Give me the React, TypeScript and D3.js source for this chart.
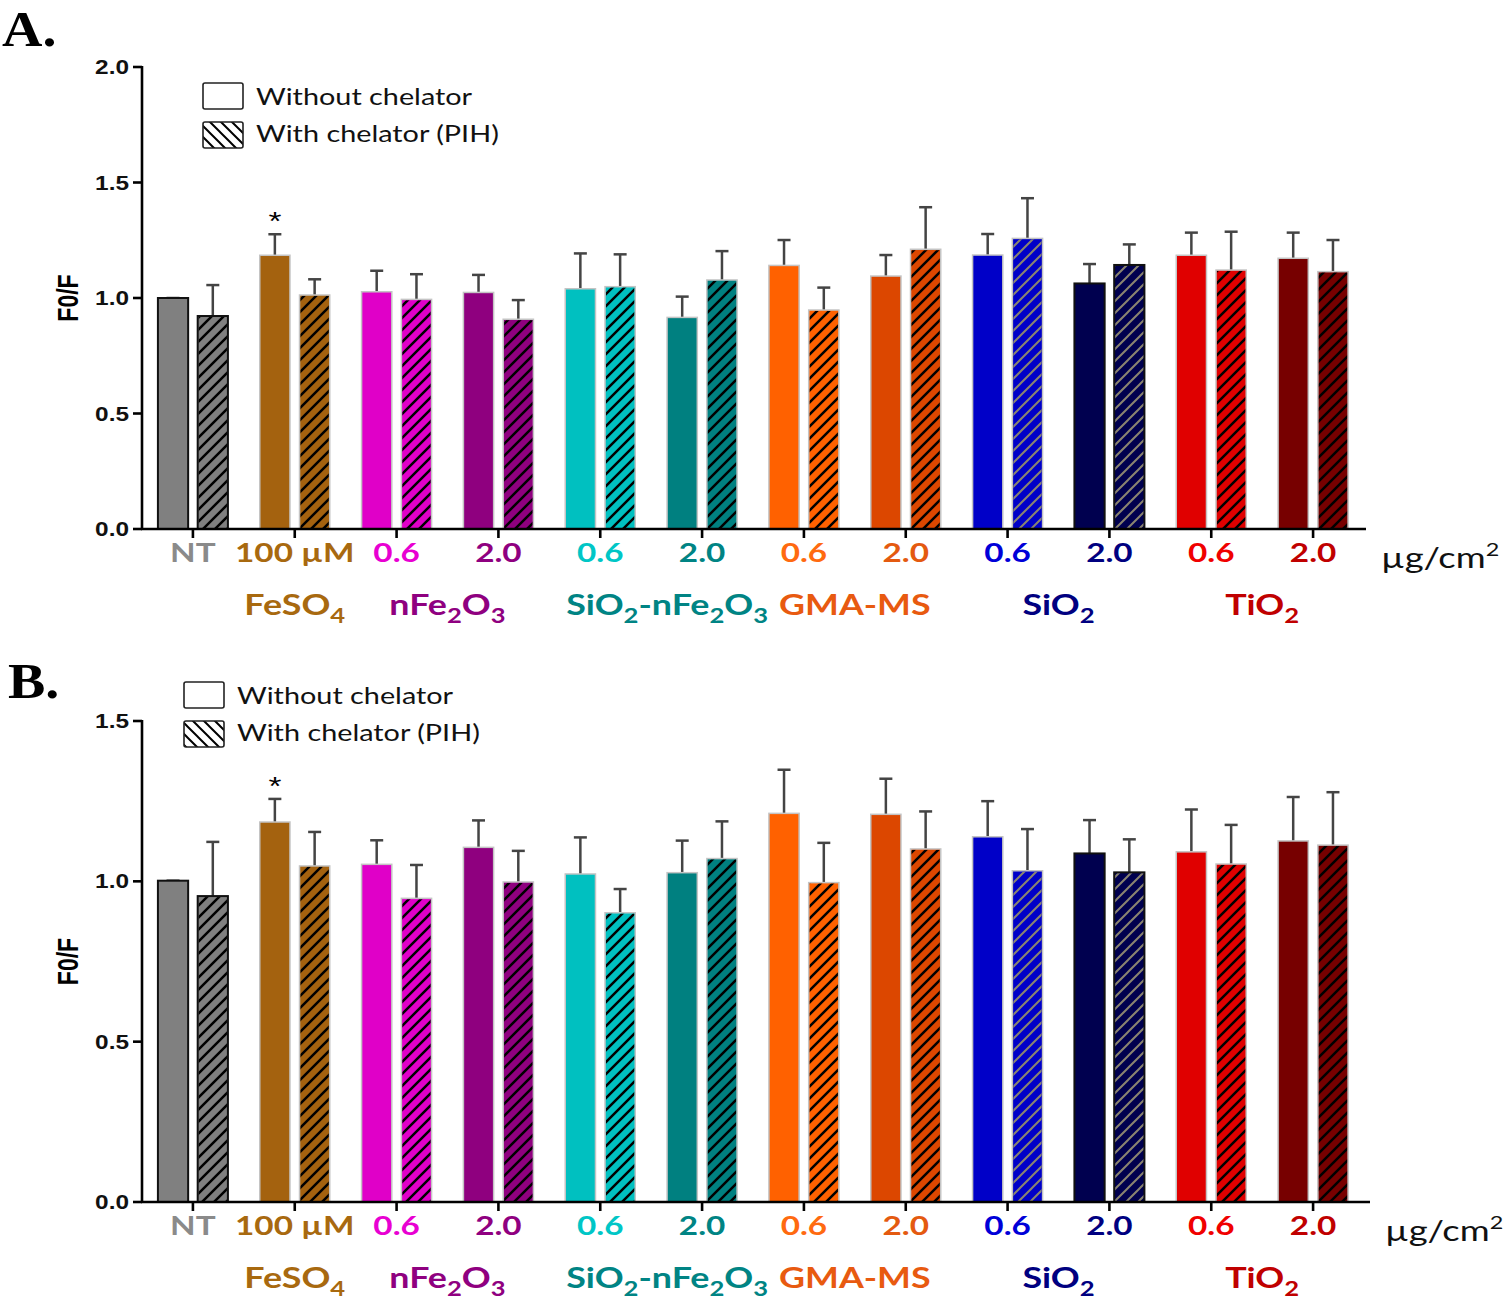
import * as d3 from "d3"

// groups along the x axis (one pair of bars each)
const groups = ["NT", "FeSO4", "nFe2O3 0.6", "nFe2O3 2.0", "SiO2-nFe2O3 0.6", "SiO2-nFe2O3 2.0",
  "GMA-MS 0.6", "GMA-MS 2.0", "SiO2 0.6", "SiO2 2.0", "TiO2 0.6", "TiO2 2.0"]
const doseLabels = ["NT", "100 µM", "0.6", "2.0", "0.6", "2.0", "0.6", "2.0", "0.6", "2.0", "0.6", "2.0"]
const conditions = ["without", "with"]

const barColors = ["#808080", "#a4620f", "#e000c8", "#8f007f", "#00c0c0", "#008080",
  "#ff6100", "#dc4700", "#0000c8", "#00004f", "#e00000", "#770000"]
const doseColors = ["#8a8a8a", "#a8690f", "#e800d2", "#8f0080", "#00c6c6", "#008484",
  "#ff6a10", "#e45a10", "#0000d8", "#000080", "#f00000", "#c00000"]

// second label row, with subscripts
const materials = [
  { parts: [["FeSO", ""], ["4", "sub"]], from: 1, to: 1, color: "#a8690f" },
  { parts: [["nFe", ""], ["2", "sub"], ["O", ""], ["3", "sub"]], from: 2, to: 3, color: "#8f0080" },
  { parts: [["SiO", ""], ["2", "sub"], ["-nFe", ""], ["2", "sub"], ["O", ""], ["3", "sub"]], from: 4, to: 5, color: "#008484" },
  { parts: [["GMA-MS", ""]], from: 6, to: 7, color: "#e85a10" },
  { parts: [["SiO", ""], ["2", "sub"]], from: 8, to: 9, color: "#000080" },
  { parts: [["TiO", ""], ["2", "sub"]], from: 10, to: 11, color: "#c00000" },
]

// panel A
const withoutA = [1.0, 1.185, 1.027, 1.024, 1.04, 0.916, 1.141, 1.095, 1.186, 1.063, 1.185, 1.172]
const withoutErrA = [0.0, 0.091, 0.091, 0.076, 0.153, 0.09, 0.11, 0.091, 0.091, 0.084, 0.098, 0.111]
const withA = [0.922, 1.013, 0.994, 0.908, 1.049, 1.078, 0.948, 1.211, 1.258, 1.143, 1.121, 1.114]
const withErrA = [0.134, 0.068, 0.109, 0.083, 0.14, 0.125, 0.097, 0.182, 0.174, 0.089, 0.166, 0.137]
const ticksA = [0, 0.5, 1.0, 1.5, 2.0]

// panel B
const withoutB = [1.002, 1.185, 1.053, 1.106, 1.023, 1.027, 1.212, 1.209, 1.139, 1.087, 1.092, 1.126]
const withoutErrB = [0.0, 0.072, 0.075, 0.084, 0.114, 0.1, 0.136, 0.111, 0.111, 0.104, 0.132, 0.137]
const withB = [0.954, 1.048, 0.947, 0.998, 0.902, 1.071, 0.996, 1.101, 1.033, 1.028, 1.054, 1.113]
const withErrB = [0.169, 0.106, 0.104, 0.097, 0.074, 0.116, 0.124, 0.117, 0.13, 0.103, 0.122, 0.165]
const ticksB = [0, 0.5, 1.0, 1.5]

const SX = 1.28 // the whole figure is stretched horizontally

const blackEdge = (i: number) => i === 0 || i === 9
const greyHatch = (i: number) => i === 8 || i === 9

interface PanelProps {
  letter: string
  without: number[]
  withC: number[]
  withoutErr: number[]
  withErr: number[]
  ticks: number[]
  yMax: number
  top: number
  bottom: number
  axisEnd: number
  legendX: number
  legendY: number
  letterX: number
  letterY: number
}

const Panel = (p: PanelProps) => {
  const left = 142
  const x = d3.scaleBand().domain(groups).range([left, 1364]).padding(0)
  const x1 = d3.scaleBand().domain(conditions).range([-35, 35]).paddingInner(0.24)
  const y = d3.scaleLinear().domain([0, p.yMax]).range([p.bottom, p.top])
  const cx = (i: number) => (x(groups[i]) as number) + x.bandwidth() / 2
  const id = p.letter

  const bars: any[] = []
  groups.forEach((g, i) => {
    conditions.forEach((c) => {
      const v = c === "without" ? p.without[i] : p.withC[i]
      const e = c === "without" ? p.withoutErr[i] : p.withErr[i]
      const bx = cx(i) + (x1(c) as number)
      const bw = x1.bandwidth()
      const stroke = blackEdge(i) ? "#111" : "#c4c4c4"
      bars.push(
        <g key={g + c}>
          <line x1={bx + bw / 2} x2={bx + bw / 2} y1={y(v)} y2={y(v + e)} stroke="#444" strokeWidth={2.5} />
          <line x1={bx + bw / 2 - 6.5} x2={bx + bw / 2 + 6.5} y1={y(v + e)} y2={y(v + e)} stroke="#444" strokeWidth={2.5} />
          <rect x={bx} y={y(v)} width={bw} height={p.bottom - y(v)} fill={barColors[i]}
            stroke={stroke} strokeWidth={blackEdge(i) ? 2 : 1.5} />
          {c === "with" && (
            <rect x={bx + 1} y={y(v) + 1} width={bw - 2} height={p.bottom - y(v) - 1}
              fill={`url(#hatch-${id}-${greyHatch(i) ? "g" : "k"})`} />
          )}
        </g>
      )
    })
  })

  const tx = (xx: number, yy: number) => `translate(${xx},${yy}) scale(${SX},1)`

  return (
    <g>
      <defs>
        <pattern id={`hatch-${id}-k`} patternUnits="userSpaceOnUse" width={12} height={12}>
          <path d="M-3,3 l6,-6 M0,12 l12,-12 M9,15 l6,-6" stroke="#000" strokeWidth={2.5} />
        </pattern>
        <pattern id={`hatch-${id}-g`} patternUnits="userSpaceOnUse" width={12} height={12}>
          <path d="M-3,3 l6,-6 M0,12 l12,-12 M9,15 l6,-6" stroke="#8a8470" strokeWidth={2} />
        </pattern>
        <pattern id={`leg-${id}`} patternUnits="userSpaceOnUse" width={11} height={11}>
          <path d="M-2,9 l4,4 M0,0 l11,11 M9,-2 l4,4" stroke="#000" strokeWidth={2} />
        </pattern>
      </defs>

      <text transform={`translate(${p.letterX},${p.letterY}) scale(1.12,1)`} fontFamily="Liberation Serif"
        fontWeight="bold" fontSize={50}>{p.letter}.</text>

      {/* legend */}
      <rect x={p.legendX} y={p.legendY} width={40} height={26} rx={2} fill="#fff" stroke="#222" strokeWidth={1.6} />
      <rect x={p.legendX} y={p.legendY + 39} width={40} height={26} rx={2} fill={`url(#leg-${id})`} stroke="#222" strokeWidth={1.6} />
      <text transform={`translate(${p.legendX + 53},${p.legendY + 22}) scale(1.2,1)`} fontFamily="Lato" fontSize={24} fill="#111">Without chelator</text>
      <text transform={`translate(${p.legendX + 53},${p.legendY + 59}) scale(1.2,1)`} fontFamily="Lato" fontSize={24} fill="#111">With chelator (PIH)</text>

      {bars}

      {/* asterisk over FeSO4 */}
      <text transform={tx(cx(1) + (x1("without") as number) + x1.bandwidth() / 2, y(p.without[1] + p.withoutErr[1]) - 4)}
        textAnchor="middle" fontFamily="Liberation Sans" fontSize={26}>*</text>

      {/* y axis */}
      <line x1={left} x2={left} y1={p.top - 1} y2={p.bottom + 1} stroke="#000" strokeWidth={2.6} />
      {p.ticks.map((t) => (
        <g key={t}>
          <line x1={left - 9} x2={left} y1={y(t)} y2={y(t)} stroke="#000" strokeWidth={2.6} />
          <text transform={`translate(${left - 13},${y(t) + 7}) scale(1.22,1)`} textAnchor="end" fontFamily="Liberation Sans"
            fontWeight="bold" fontSize={20} fill="#111">{d3.format(".1f")(t)}</text>
        </g>
      ))}
      <text transform={`translate(78,${(p.top + p.bottom) / 2}) scale(${SX},1) rotate(-90)`}
        textAnchor="middle" fontFamily="Liberation Sans" fontWeight="bold" fontSize={23}>F0/F</text>

      {/* x axis */}
      <line x1={left - 1} x2={p.axisEnd} y1={p.bottom} y2={p.bottom} stroke="#000" strokeWidth={2.6} />
      {groups.map((g, i) => (
        <g key={g}>
          <line x1={cx(i)} x2={cx(i)} y1={p.bottom} y2={p.bottom + 9} stroke="#000" strokeWidth={2.6} />
          <text transform={tx(cx(i), p.bottom + 33)} textAnchor="middle" fontFamily="Lato" fontWeight="bold"
            fontSize={26} fill={doseColors[i]}>{doseLabels[i]}</text>
        </g>
      ))}
      <text transform={`translate(${p.axisEnd + 15},${p.bottom + 39}) scale(1.3,1)`} fontFamily="Lato" fontSize={28} fill="#111">
        µg/cm<tspan fontSize={18} dy={-12}>2</tspan>
      </text>

      {materials.map((m, k) => {
        const mx = (cx(m.from) + cx(m.to)) / 2 + (k === 2 ? 16 : 0)
        return (
          <text key={k} transform={tx(mx, p.bottom + 86)} textAnchor="middle" fontFamily="Lato" fontWeight="bold"
            fontSize={28} fill={m.color}>
            {m.parts.map(([s, kind], j) => {
              const prevSub = j > 0 && m.parts[j - 1][1] === "sub"
              return (
                <tspan key={j} fontSize={kind === "sub" ? 20 : 28}
                  dy={kind === "sub" ? 8 : prevSub ? -8 : 0}>{s}</tspan>
              )
            })}
          </text>
        )
      })}
    </g>
  )
}

const App = () => {
  return (
    <svg width={1505} height={1299} style={{ position: "absolute", left: 0, top: 0, background: "#fff" }}>
      <rect width={1505} height={1299} fill="#fff" />
      <Panel letter="A" without={withoutA} withC={withA} withoutErr={withoutErrA} withErr={withErrA}
        ticks={ticksA} yMax={2.0} top={67} bottom={529} axisEnd={1366}
        legendX={203} legendY={83} letterX={2} letterY={46} />
      <Panel letter="B" without={withoutB} withC={withB} withoutErr={withoutErrB} withErr={withErrB}
        ticks={ticksB} yMax={1.5} top={721} bottom={1202} axisEnd={1370}
        legendX={184} legendY={682} letterX={8} letterY={698} />
    </svg>
  )
}

export default App
